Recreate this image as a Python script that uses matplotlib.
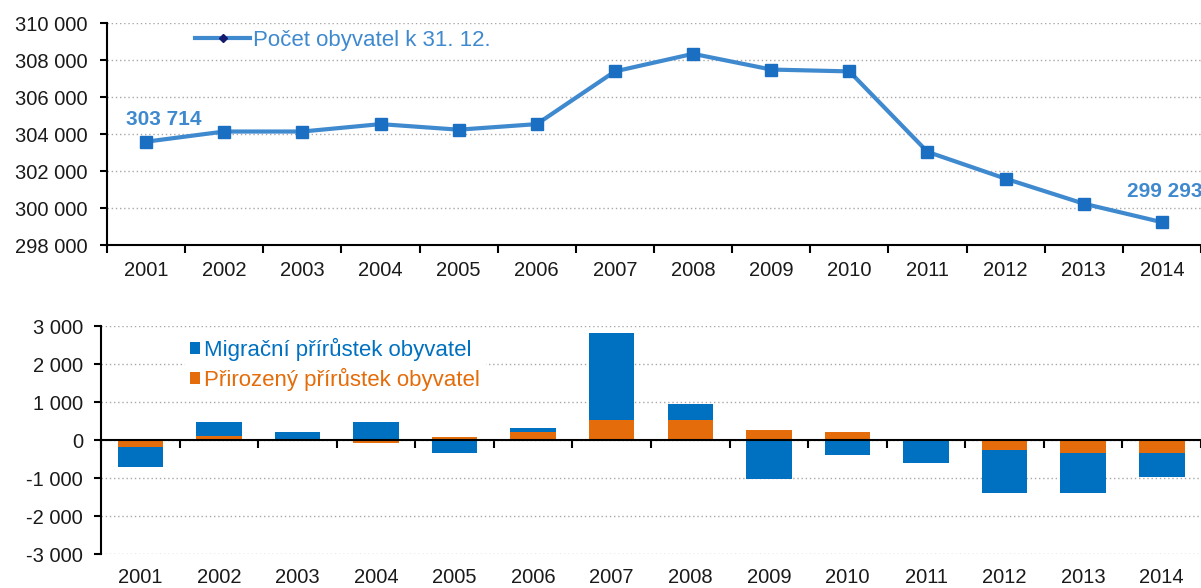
import matplotlib
matplotlib.use("Agg")
import matplotlib.pyplot as plt
from matplotlib.lines import Line2D
from matplotlib.patches import Patch
from matplotlib.ticker import FuncFormatter
import numpy as np

years = ["2001", "2002", "2003", "2004", "2005", "2006", "2007",
         "2008", "2009", "2010", "2011", "2012", "2013", "2014"]
population = [303600, 304150, 304150, 304550, 304250, 304550, 307400,
              308350, 307500, 307400, 303050, 301600, 300250, 299250]
natural = [-190, 115, 5, -87, 70, 218, 522, 522, 270, 218, 0, -252, -348, -348]
migration = [-523, 365, 213, 480, -348, 113, 2306, 426, -1027, -392, -610, -1132, -1036, -627]
first_label = "303 714"
last_label = "299 293"

FONT = ["Liberation Sans", "DejaVu Sans"]
plt.rcParams['font.family'] = FONT
TXT = "#1a1a1a"
LINE = "#3F89CF"
MARK = "#1A6FC2"
BLUE = "#0070C0"
ORANGE = "#E46C0A"
FS = 14.5
LFS = 16

def sp(v, _):
    return f"{int(v):,}".replace(",", " ")

fig = plt.figure(figsize=(12.01, 5.88), dpi=100)

# ---------- top chart ----------
ax1 = fig.add_axes([107/1201, 1-245.3/588, 1-107/1201, (245.3-23.3)/588])
x = np.arange(len(years))
ax1.plot(x, population, color=LINE, lw=3, marker='s', ms=8,
         mfc=MARK, mec=MARK, zorder=3, clip_on=False)
ax1.set_xlim(-0.5, len(years) - 0.5)
ax1.set_ylim(298000, 310000)
ax1.set_yticks(np.arange(298000, 310001, 2000))
ax1.yaxis.set_major_formatter(FuncFormatter(sp))
ax1.set_xticks(np.arange(-0.5, len(years), 1.0))
ax1.set_xticklabels([])
ax1.set_xticks(x, minor=True)
ax1.set_xticklabels(years, minor=True)
ax1.tick_params(axis='x', which='major', length=6, width=1.5, direction='out', color='black')
ax1.tick_params(axis='x', which='minor', length=0, pad=11, labelsize=FS, labelcolor=TXT)
ax1.tick_params(axis='y', length=5, width=1.5, direction='out', labelsize=FS, labelcolor=TXT, pad=9)
for s in ['top', 'right']:
    ax1.spines[s].set_visible(False)
for s in ['left', 'bottom']:
    ax1.spines[s].set_linewidth(1.5)
ax1.grid(axis='y', linestyle=(0, (1, 2)), color='#a8a8a8', lw=1)
ax1.set_axisbelow(True)

ax1.annotate(first_label, (x[0], population[0]), xytext=(13, 16), textcoords='offset points',
             ha='center', va='center', fontsize=15, fontweight='bold', color=LINE)
ax1.annotate(last_label, (x[-1], population[-1]), xytext=(2, 22), textcoords='offset points',
             ha='center', va='center', fontsize=15, fontweight='bold', color=LINE,
             annotation_clip=False)

h1 = Line2D([], [], color=LINE, lw=3, marker='D', ms=4, mfc='#141a6e', mec='#141a6e')
leg1 = ax1.legend([h1], ["Počet obyvatel k 31. 12."], loc='upper left',
                  bbox_to_anchor=(0.062, 1.062), frameon=False, fontsize=LFS,
                  handlelength=2.5, handletextpad=0.1)
for t in leg1.get_texts():
    t.set_color(LINE)

# ---------- bottom chart ----------
ax2 = fig.add_axes([101/1201, 1-554.3/588, 1-101/1201, (554.3-326)/588])
nat = np.array(natural)
mig = np.array(migration)
w = 0.58
ax2.bar(x, nat, width=w, color=ORANGE, zorder=2)
mig_base = np.where(np.sign(mig) == np.sign(nat), nat, 0)
ax2.bar(x, mig, bottom=mig_base, width=w, color=BLUE, zorder=2)
ax2.set_xlim(-0.5, len(years) - 0.5)
ax2.set_ylim(-3000, 3000)
ax2.set_yticks(np.arange(-3000, 3001, 1000))
ax2.yaxis.set_major_formatter(FuncFormatter(sp))
ax2.spines['bottom'].set_position(('data', 0))
ax2.set_xticks(np.arange(-0.5, len(years), 1.0))
ax2.set_xticklabels([])
ax2.tick_params(axis='x', length=6, width=1.5, direction='out', color='black')
ax2.tick_params(axis='y', length=5, width=1.5, direction='out', labelsize=FS, labelcolor=TXT, pad=8)
for s in ['top', 'right']:
    ax2.spines[s].set_visible(False)
for s in ['left', 'bottom']:
    ax2.spines[s].set_linewidth(1.5)
ax2.grid(axis='y', linestyle=(0, (1, 2)), color='#a8a8a8', lw=1)
ax2.set_axisbelow(True)
for i, yl in enumerate(years):
    ax2.annotate(yl, (x[i], 0), xycoords=('data', 'axes fraction'), xytext=(0, -17),
                 textcoords='offset points', ha='center', va='center', fontsize=FS, color=TXT)

h_m = Patch(facecolor=BLUE, edgecolor='none')
h_n = Patch(facecolor=ORANGE, edgecolor='none')
leg2 = ax2.legend([h_m, h_n], ["Migrační přírůstek obyvatel", "Přirozený přírůstek obyvatel"],
                  loc='upper left', bbox_to_anchor=(0.066, 1.022), frameon=True, fontsize=LFS,
                  handlelength=0.45, handleheight=0.45, handletextpad=0.15, labelspacing=0.32,
                  borderpad=0.25, fancybox=False)
leg2.get_frame().set_facecolor('white')
leg2.get_frame().set_edgecolor('white')
leg2.get_frame().set_alpha(1)
leg2.get_texts()[0].set_color(BLUE)
leg2.get_texts()[1].set_color(ORANGE)

fig.savefig("out.png", dpi=100)
